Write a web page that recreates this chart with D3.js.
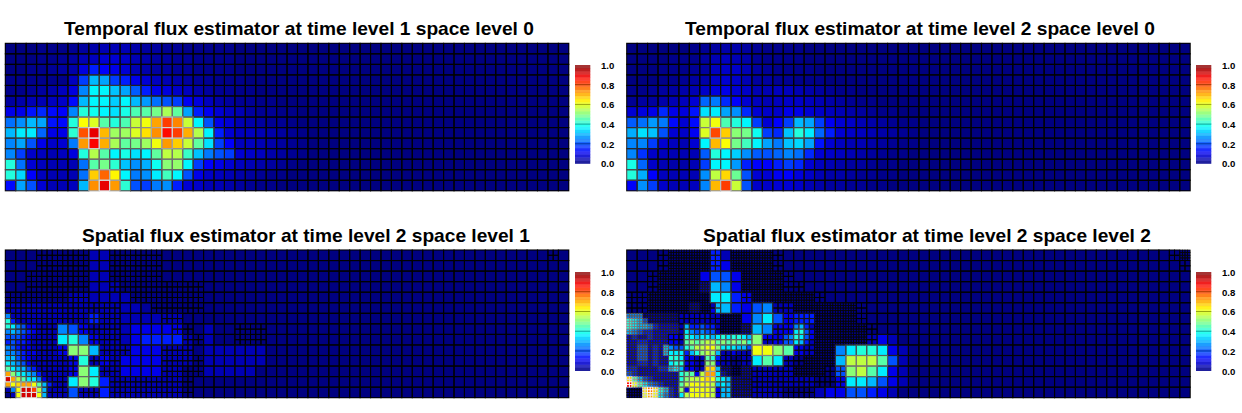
<!DOCTYPE html>
<html>
<head>
<meta charset="utf-8">
<script src="https://cdn.jsdelivr.net/npm/d3@7"></script>
<style>
  html, body { margin: 0; background: #fff; }
  svg { display: block; }
  text { font-family: "Liberation Sans", Arial, sans-serif; font-weight: bold; fill: #000; }
</style>
</head>
<body>
<svg id="chart" width="1242" height="413"></svg>
<script>
// Mesh dimensions of the coarse grid.
const coarseCols = 54;
const coarseRows = 14;
// Cells past the end of a written row sit at the floor of the estimator.
const floorPercent = 2;

// Temporal estimator, time level 1: coarse cell values in percent of the maximum.
const temporalT1 = [
  [2,2,2,3,3,3,4,5,6,7,7,7,6,5,5,4,4,3,3,3,3,3,2,2],
  [2,2,2,3,3,4,5,7,8,10,10,9,7,6,5,5,4,4,3,3,3,3,2,2],
  [2,2,3,3,4,5,6,11,17,14,12,10,7,6,5,5,4,4,3,3,3,3,2,2],
  [3,3,3,3,3,3,8,20,32,30,20,17,12,10,8,7,6,5,4,4,3,3,3,2],
  [3,3,4,5,6,8,11,27,38,38,33,30,23,17,12,11,9,8,6,5,4,4,3,3],
  [5,6,7,7,8,9,15,32,38,38,34,38,32,29,25,22,20,13,11,8,6,5,4,4,3,3],
  [12,12,16,18,15,14,27,42,40,38,36,41,46,47,50,55,48,30,17,13,10,8,7,5,4,4,3,3],
  [25,28,32,30,16,15,42,63,60,47,42,46,58,62,72,82,75,58,38,22,12,10,7,6,5,4,4,3],
  [32,37,37,24,12,12,43,80,90,70,54,54,60,66,74,87,82,71,56,38,17,10,8,8,7,6,5,4,3],
  [27,30,22,12,9,10,26,73,88,71,55,48,50,54,62,73,68,58,48,36,20,14,8,8,7,6,5,4,3],
  [27,20,9,8,7,8,11,42,56,47,38,41,36,38,48,57,56,44,33,26,22,20,10,9,8,6,5,4,3],
  [42,25,10,8,7,7,7,25,47,50,43,33,28,31,40,52,53,38,20,14,12,10,8,7,6,5,4,3],
  [42,35,14,8,7,7,7,25,68,78,64,38,26,28,37,45,38,22,12,9,8,7,6,5,4,3,3],
  [15,30,22,10,7,7,8,32,74,90,73,43,22,20,26,28,17,10,9,7,7,6,5,4,3,3]
];

// Temporal estimator, time level 2.
const temporalT2 = [
  [2,2,2,2,2,2,3,4,5,6,6,5,4,3,3,3,3,2],
  [2,2,2,2,3,3,3,5,7,8,7,6,4,3,3,3,3,2],
  [2,2,2,3,3,3,4,5,8,9,9,7,5,4,3,3,3,3,2],
  [2,2,2,3,3,4,5,6,9,10,9,7,5,5,4,4,3,3,3,2],
  [3,3,4,5,5,6,7,9,11,12,10,9,7,7,8,8,7,6,5,4,3,3,2],
  [4,5,5,6,7,8,10,24,26,18,14,10,8,7,8,9,9,8,7,6,5,4,3,3,2],
  [10,11,12,18,12,11,16,36,37,30,28,18,10,9,9,12,12,10,9,8,7,6,5,4,3,3,2],
  [23,25,29,26,15,10,15,58,62,46,42,38,20,10,14,20,32,30,20,13,10,9,7,6,5,4,3,3],
  [31,36,33,22,10,9,13,60,81,68,52,50,40,20,18,33,42,37,24,17,10,9,8,7,6,5,4,3],
  [27,27,20,10,8,7,10,38,70,63,50,45,38,30,26,33,35,30,16,10,8,7,7,6,5,4,3,3],
  [27,19,9,8,7,7,7,23,42,38,34,28,23,22,24,27,25,18,10,9,8,7,6,5,4,3,3],
  [41,24,9,7,6,6,7,20,38,38,29,17,14,14,17,20,18,10,8,7,6,5,5,4,3,3],
  [42,31,14,8,7,7,7,28,57,67,49,22,10,10,13,14,11,9,7,6,6,5,4,4,3,3],
  [14,28,20,9,7,7,8,27,70,82,58,22,9,9,10,10,9,7,6,5,5,4,4,3,3]
];

// Spatial estimators live on an adaptive mesh. The level rows say how often each
// coarse cell is split (0: whole, 1: into 2x2, 2: into 4x4).
const spatialS1Levels = [
  "0001111100 1111100000 0000000000 0000000000 0000000000 0010",
  "0001111100 1111100000",
  "0011111100 1111100000",
  "0011111100 1111111110",
  "1111111100 0011111110",
  "1111111111 1000111110",
  "1111111111 1000011000",
  "1111100111 1000001100 0011100000",
  "1111100011 1000000110 0011100000",
  "1111110001 1100011100",
  "1111111011 1000011110",
  "1111111001 1000011110",
  "1111110000 1111111100",
  "1111110110 1111111100"
];

// Half-cell values, one character per half cell. Each code counts 5% steps above the floor.
const spatialS1Values = [
  "0000000000 0000001111 0000000000",
  "0000000000 0000001111 0000000000",
  "0000000000 0000001111 0000000000",
  "0000000000 0000001111 0000000000",
  "0000000000 0000001111 0000000000",
  "0000000000 0000001111 0000000000",
  "0000000000 0000001111 1100000000",
  "0000000000 0000001111 1100000000",
  "0000000000 0011111111 1111000000",
  "0000000000 0011111111 1111000000",
  "1111111111 1111111111 1111111000",
  "1111111111 1111111111 1111111000",
  "5111111111 1111113311 1111111111 1111000000",
  "8311111111 1111113311 1111111111 1111000000",
  "8754221111 5544221111 1111222222 2222000011",
  "5654321111 5544221111 1111222222 2222000011",
  "4443211111 7788552211 1111223333 3333110011",
  "3433211111 7788552211 1111223333 3333110011",
  "5432211111 22aaaa6611 1111222222 1111110011 1111111111",
  "5543221111 22aaaa6611 1111222222 1111110011 1111111111",
  "6643211111 1122881122 1122222222 1111110011 1111111111",
  "7654211111 1122881122 1122222222 1111110011 1111111111",
  "9766431111 1122aa7711 1122222222 1111000011 1111111100",
  "ea87653111 1122aa7711 1122222222 1111000011 1111111100",
  "ieb9775211 1177aa8833 1111111111 1111000000",
  "ecdeec9631 1177aa8833 1111111111 1111000000",
  "15ciigb611 1144111133 1111111111 1111000000",
  "01ciiic611 1144111133 1111111111 1111000000"
];

const spatialS2Levels = [
  "0001222210 2222100000 0000000000 0000000000 0000000000 0012",
  "0001222210 2222100000 0000000000 0000000000 0000000000 0001",
  "0012222000 0222210000",
  "0012222200 0222211000",
  "1122222200 0122222210",
  "1122222210 0000112222 2210000000",
  "2222211112 2000011122 2210000000",
  "2222211112 2200111122 2221000000",
  "2222111111 1101111122 2221000000",
  "2222111111 1100001122",
  "2222111111 1100011222",
  "2222211112 2211112221 1000000000",
  "2222211111 2211111111 1000000000",
  "2222211111 2211111100"
];

const spatialS2Values = [
  "0000000000 0000003311 0000000000",
  "0000000000 0000003311 0000000000",
  "0000000000 0000003322 0000000000",
  "0000000000 0000003322 0000000000",
  "0000000000 0000224444 2200000000",
  "0000000000 0000224444 2200000000",
  "0000000000 0000116655 2200000000",
  "0000000000 0000116655 2200000000",
  "0000000000 0000007777 3322000000",
  "0000000000 0000007777 3322000000",
  "0000000000 0011001666 3322445511 1100000000",
  "0000000000 0011002666 3322445511 1100000000",
  "5551111111 1111111100 0022557744 2233330000",
  "8764111111 1111111100 0022557744 2233330000",
  "8766532222 1633433100 0011665522 2256310000",
  "6543322222 1754544100 0011665522 2278420000",
  "2322322222 1876776787 8876aa2222 4587420000 0000001122 1100000000",
  "2233222222 19a9abb9a9 a9a8aa1122 4476310000 0000001122 1100000000",
  "2244232654 489bbcca77 7664ccccaa 9922110000 5577888877 2211000000",
  "2244232677 7368aba611 2111ccccaa 9922110000 5577888877 2211000000",
  "2244232288 7221198311 0011779977 1100000000 66bbbbbb99 4411000000",
  "2233232278 82211aa211 0011779977 1100000000 66bbbbbb99 4411000000",
  "3322223367 62211dd611 0011111111 1100000000 44aabb9977 2211000000",
  "4322222222 8992bee721 0011111111 1100000000 44aabb9977 2211000000",
  "d964322222 8abbcdc876 1111111111 1111110000 2277776644 2211000000",
  "hc97543222 9bccccb676 1111111111 1111110000 2277776644 2211000000",
  "000dfd8632 a2ccccb266 1111111111 0000001122 2244443322 1100000000",
  "000cec7532 7bccccb266 1111111111 0000001122 2244443322 1100000000"
];

// Panel titles and colour bar ticks.
const panelTitles = [
  "Temporal flux estimator at time level 1 space level 0",
  "Temporal flux estimator at time level 2 space level 0",
  "Spatial flux estimator at time level 2 space level 1",
  "Spatial flux estimator at time level 2 space level 2"
];
const barTicks = [0, 0.2, 0.4, 0.6, 0.8, 1];

// Page layout of the four panels.
const layout = [
  { left: 5.3,   right: 568.8,  top: 43.3, bottom: 190.8, titleX: 64,  titleY: 34.5, barX: 575,  barTop: 65,  barBottom: 163.5 },
  { left: 626.7, right: 1190.2, top: 43.3, bottom: 190.8, titleX: 685, titleY: 34.5, barX: 1196, barTop: 65,  barBottom: 163.5 },
  { left: 5.3,   right: 568.8,  top: 250,  bottom: 397.7, titleX: 82,  titleY: 241.5, barX: 575,  barTop: 272, barBottom: 370.7 },
  { left: 626.7, right: 1190.2, top: 250,  bottom: 397.7, titleX: 703, titleY: 241.5, barX: 1196, barTop: 272, barBottom: 370.7 }
];

// Classic jet ramp from navy through cyan and yellow to dark red.
const ramp = x => Math.max(0, Math.min(1, 1.5 - Math.abs(4 * x - 2)));
const jet = t => d3.rgb(ramp(t - 0.25) * 255, ramp(t) * 255, ramp(t + 0.25) * 255);
// The estimator floor maps onto the bottom of the ramp.
const colourPosition = d3.scaleLinear().domain([0.02, 1]).range([0, 1]).clamp(true);
const colour = v => jet(colourPosition(v));

// Mesh edges: grey tone follows the value, with the finest cells reading a little lighter.
const meshGrey = (v, size) =>
  d3.interpolateRgb("#000", "#fff")(Math.min(1, size < 0.5 ? v * 1.3 : Math.pow(v, 1.4)));

const codeToValue = ch => parseInt(ch, 36) * 0.05 + floorPercent / 100;
const clean = s => s.replace(/ /g, "");

function coarseCells(rows) {
  const cells = [];
  for (let r = 0; r < coarseRows; r++) {
    for (let c = 0; c < coarseCols; c++) {
      const pct = rows[r][c] ?? floorPercent;
      cells.push({ x: c, y: r, size: 1, value: pct / 100 });
    }
  }
  return cells;
}

function adaptiveCells(levelRows, valueRows) {
  const levels = levelRows.map(clean);
  const values = valueRows.map(clean);
  const half = (t, s) => codeToValue(values[t]?.[s] ?? "0");
  const cells = [];
  for (let r = 0; r < coarseRows; r++) {
    for (let c = 0; c < coarseCols; c++) {
      const level = +(levels[r][c] ?? "0");
      if (level === 0) {
        const value = d3.mean([half(2*r, 2*c), half(2*r, 2*c+1), half(2*r+1, 2*c), half(2*r+1, 2*c+1)]);
        cells.push({ x: c, y: r, size: 1, value });
        continue;
      }
      const perHalf = level === 1 ? 1 : 2;
      const size = 0.5 / perHalf;
      for (let t = 0; t < 2; t++) for (let s = 0; s < 2; s++) {
        const value = half(2*r + t, 2*c + s);
        for (let j = 0; j < perHalf; j++) for (let i = 0; i < perHalf; i++) {
          cells.push({ x: c + s/2 + i*size, y: r + t/2 + j*size, size, value });
        }
      }
    }
  }
  return cells;
}

const panelCells = [
  coarseCells(temporalT1),
  coarseCells(temporalT2),
  adaptiveCells(spatialS1Levels, spatialS1Values),
  adaptiveCells(spatialS2Levels, spatialS2Values)
];

const svg = d3.select("#chart");

layout.forEach((box, i) => {
  const x = d3.scaleLinear().domain([0, coarseCols]).range([box.left, box.right]);
  const y = d3.scaleLinear().domain([0, coarseRows]).range([box.top, box.bottom]);
  const g = svg.append("g");
  const cells = panelCells[i];

  g.append("text").attr("x", box.titleX).attr("y", box.titleY)
    .style("font-size", "19.15px").text(panelTitles[i]);

  const place = sel => sel
    .attr("x", d => x(d.x))
    .attr("y", d => y(d.y))
    .attr("width", d => x(d.x + d.size) - x(d.x))
    .attr("height", d => y(d.y + d.size) - y(d.y));

  g.append("g").selectAll("rect").data(cells).join("rect")
    .call(place)
    .attr("fill", d => colour(d.value))
    .attr("shape-rendering", "crispEdges");

  // Mesh edges are drawn brightest last so hot cells keep their pale outline.
  g.append("g").selectAll("rect").data(d3.sort(cells, d => d.value)).join("rect")
    .call(place)
    .attr("fill", "none")
    .attr("stroke", d => meshGrey(d.value, d.size))
    .attr("stroke-width", d => d.size === 1 ? 1.1 : d.size === 0.5 ? 0.95 : 0.7);

  // Colour bar with banded fill and darker lines at the inner ticks.
  const barScale = d3.scaleLinear().domain([0, 1]).range([box.barBottom, box.barTop]);
  const bar = g.append("g");
  const bands = d3.range(32);
  bar.selectAll("rect").data(bands).join("rect")
    .attr("x", box.barX).attr("width", 15.3)
    .attr("y", b => barScale((b + 1) / 32))
    .attr("height", b => barScale(b / 32) - barScale((b + 1) / 32) + 0.3)
    .attr("fill", b => jet((b + 0.5) / 32))
    .attr("fill-opacity", b => b % 2 ? 0.8 : 0.88);
  bar.selectAll("line").data(barTicks.slice(1, -1)).join("line")
    .attr("x1", box.barX).attr("x2", box.barX + 15.3)
    .attr("y1", barScale).attr("y2", barScale)
    .attr("stroke", t => d3.rgb(jet(t)).darker(1.2));

  const axis = d3.axisRight(barScale).tickValues(barTicks).tickSize(0).tickPadding(0)
    .tickFormat(d3.format(".1f"));
  const axisG = g.append("g")
    .attr("transform", `translate(${box.barX + 26},0.3)`).call(axis);
  axisG.select(".domain").remove();
  axisG.selectAll("text").style("font-size", "9.6px").style("font-family", null);
  axisG.attr("font-family", null).attr("font-size", null);
});
</script>
</body>
</html>
